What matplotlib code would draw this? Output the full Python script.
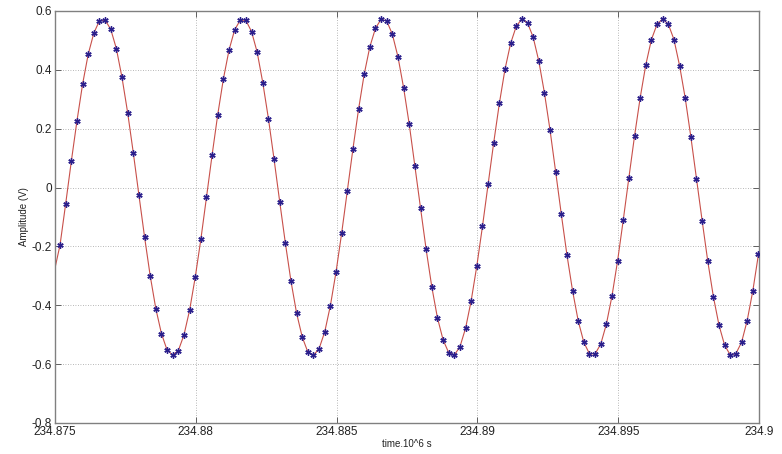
import matplotlib
matplotlib.use('Agg')
import matplotlib.pyplot as plt
import numpy as np

amp = [-0.195, -0.055, 0.089, 0.226, 0.351, 0.453, 0.525, 0.567, 0.569, 0.538,
       0.472, 0.374, 0.255, 0.119, -0.025, -0.167, -0.299, -0.411, -0.496, -0.552,
       -0.569, -0.554, -0.501, -0.417, -0.305, -0.176, -0.033, 0.111, 0.248, 0.369,
       0.467, 0.536, 0.569, 0.568, 0.530, 0.460, 0.356, 0.234, 0.096, -0.048,
       -0.188, -0.318, -0.427, -0.508, -0.559, -0.570, -0.547, -0.490, -0.401, -0.287,
       -0.155, -0.012, 0.131, 0.266, 0.385, 0.478, 0.541, 0.572, 0.566, 0.521,
       0.444, 0.339, 0.215, 0.073, -0.069, -0.210, -0.337, -0.442, -0.517, -0.561,
       -0.569, -0.541, -0.478, -0.384, -0.266, -0.132, 0.011, 0.153, 0.286, 0.402,
       0.490, 0.548, 0.573, 0.560, 0.511, 0.430, 0.322, 0.195, 0.053, -0.091,
       -0.229, -0.351, -0.453, -0.526, -0.565, -0.565, -0.532, -0.464, -0.368, -0.248,
       -0.110, 0.034, 0.175, 0.305, 0.417, 0.503, 0.555, 0.573, 0.555, 0.503,
       0.414, 0.304, 0.172, 0.030, -0.112, -0.250, -0.371, -0.468, -0.536, -0.569,
       -0.564, -0.526, -0.452, -0.351, -0.227]
T0 = 234.87518   # first sample
DT = 0.0002      # sample step
t = T0 + DT * np.arange(len(amp))

# red trace starts at the left edge of the axes
line_start_t = 234.875
line_start_v = -0.274

xticks = [234.875, 234.88, 234.885, 234.89, 234.895, 234.9]
xtick_labels = ['234.875', '234.88', '234.885', '234.89', '234.895', '234.9']
yticks = [-0.8, -0.6, -0.4, -0.2, 0, 0.2, 0.4, 0.6]
ytick_labels = ['-0.8', '-0.6', '-0.4', '-0.2', '0', '0.2', '0.4', '0.6']

plt.rcParams['font.family'] = ['Liberation Sans', 'DejaVu Sans']

fig = plt.figure(figsize=(7.82, 4.54), dpi=100)
ax = fig.add_axes([0.0703, 0.0683, 0.9003, 0.9075])

line_t = np.concatenate([[line_start_t], t])
line_v = np.concatenate([[line_start_v], amp])
ax.plot(line_t, line_v, color='#c8504a', lw=0.8, zorder=2)
# matlab style '*' = asterisk
ax.plot(t, amp, ls='none', marker=(6, 2, 0), ms=4.5, color='#2b1f8c',
        markeredgewidth=1.0, zorder=3)

ax.set_xlim(234.875, 234.9)
ax.set_ylim(-0.8, 0.6)
ax.set_xticks(xticks)
ax.set_xticklabels(xtick_labels)
ax.set_yticks(yticks)
ax.set_yticklabels(ytick_labels)
ax.grid(True, ls=(0, (1, 2)), color='#a0a0a0', lw=0.6)
ax.tick_params(direction='in', length=4, width=0.7, colors='#606060',
               labelcolor='#222222', labelsize=8.5, top=True, right=True, pad=2)
for s in ax.spines.values():
    s.set_color('#808080')
    s.set_linewidth(1.0)

ax.set_xlabel('time.10^6 s', fontsize=7, labelpad=1, color='#222222')
ax.set_ylabel('Amplitude (V)', fontsize=7, labelpad=2, color='#222222')

fig.savefig('out.png', dpi=100, facecolor='white')
